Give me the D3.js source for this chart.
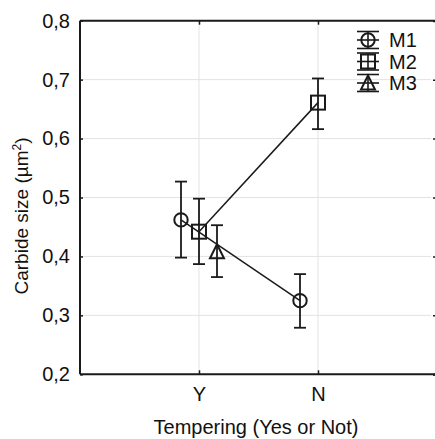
<!DOCTYPE html>
<html><head><meta charset="utf-8">
<script src="https://cdn.jsdelivr.net/npm/d3@7"></script>
<style>body{margin:0;background:#fff;} text{font-family:"Liberation Sans",Arial,sans-serif;fill:#111;}</style>
</head><body><svg id="c" width="435" height="439"></svg>
<script>
const categories = ["Y", "N"];
const seriesNames = ["M1", "M2", "M3"];
const means = [[0.462, 0.325], [0.442, 0.661], [0.408, null]];
const lows  = [[0.398, 0.279], [0.387, 0.616], [0.365, null]];
const highs = [[0.527, 0.370], [0.498, 0.702], [0.453, null]];
const yTicks = [0.2, 0.3, 0.4, 0.5, 0.6, 0.7, 0.8];
const yTickLabels = ["0,2", "0,3", "0,4", "0,5", "0,6", "0,7", "0,8"];
const xTitle = "Tempering (Yes or Not)";
const yTitleMain = "Carbide size (µm";
const yTitleSup = "2";
const yTitleEnd = ")";

const svg = d3.select("#c");
const L = 80, R = 437, T = 20.7, B = 374.3;
const FS = "20px";
const x = d3.scalePoint().domain(categories).range([L, R]).padding(1);
const y = d3.scaleLinear().domain([0.2, 0.8]).range([B, T]);
const dark = "#1a1a1a";

// grid
const g = svg.append("g");
g.selectAll(".gy").data(yTicks.slice(1, -1)).join("line")
  .attr("x1", L).attr("x2", 431).attr("y1", d => y(d)).attr("y2", d => y(d))
  .attr("stroke", "#e3e3e3").attr("stroke-width", 1);
g.selectAll(".gx").data(categories).join("line")
  .attr("x1", d => x(d)).attr("x2", d => x(d)).attr("y1", T).attr("y2", B)
  .attr("stroke", "#e3e3e3").attr("stroke-width", 1);

// axes
const axL = d3.axisLeft(y).tickValues(yTicks).tickSize(-3).tickPadding(10)
  .tickFormat((d, i) => yTickLabels[i]);
const gl = svg.append("g").attr("transform", `translate(${L},0)`).call(axL);
const axB = d3.axisBottom(x).tickSize(-4).tickPadding(13);
const gb = svg.append("g").attr("transform", `translate(0,${B})`).call(axB);
const axT = d3.axisTop(x).tickSize(-4).tickFormat("");
const gt = svg.append("g").attr("transform", `translate(0,${T})`).call(axT);
const axR = d3.axisRight(y).tickValues(yTicks).tickSize(-4).tickFormat("");
const gr = svg.append("g").attr("transform", `translate(${R},0)`).call(axR);
[gl, gb, gt, gr].forEach(a => {
  a.select(".domain").attr("stroke", dark).attr("stroke-width", 2);
  a.selectAll(".tick line").attr("stroke", dark).attr("stroke-width", 1.5);
  a.selectAll("text").style("font-size", FS).attr("fill", "#111")
    .style("font-family", '"Liberation Sans",Arial,sans-serif');
});
gb.select(".domain").attr("d", `M${L},0H${R}`);
gt.select(".domain").attr("d", `M${L},0H${R}`);
gl.select(".domain").attr("d", `M0,${B}V${T}`);

// titles
svg.append("text").attr("x", 256).attr("y", 434).attr("text-anchor", "middle")
  .style("font-size", FS).text(xTitle);
const yt = svg.append("text").attr("transform", "translate(28,216) rotate(-90)").attr("text-anchor", "middle")
  .style("font-size", "19px");
yt.append("tspan").text(yTitleMain);
yt.append("tspan").attr("dy", -7).style("font-size", "12px").text(yTitleSup);
yt.append("tspan").attr("dy", 7).text(yTitleEnd);

// markers
function marker(sel, k, cx, cy) {
  if (k === 0) sel.append("circle").attr("cx", cx).attr("cy", cy).attr("r", 6.7);
  else if (k === 1) sel.append("rect").attr("x", cx - 7).attr("y", cy - 7).attr("width", 14).attr("height", 14);
  else sel.append("path").attr("d", `M${cx},${cy - 7.5}L${cx + 7},${cy + 6.5}L${cx - 7},${cy + 6.5}Z`);
}
const dodge = 18;
const data = svg.append("g");
seriesNames.forEach((s, k) => {
  const off = (k - 1) * dodge;
  const pts = categories.map((c, i) => ({c, m: means[k][i], lo: lows[k][i], hi: highs[k][i]}))
    .filter(p => p.m != null);
  const line = d3.line().x(p => x(p.c) + off).y(p => y(p.m));
  if (pts.length > 1)
    data.append("path").attr("d", line(pts)).attr("fill", "none").attr("stroke", dark).attr("stroke-width", 1.5);
  pts.forEach(p => {
    const cx = x(p.c) + off;
    const eb = data.append("g").attr("stroke", dark).attr("stroke-width", 1.8);
    eb.append("line").attr("x1", cx).attr("x2", cx).attr("y1", y(p.hi)).attr("y2", y(p.lo));
    eb.append("line").attr("x1", cx - 6).attr("x2", cx + 6).attr("y1", y(p.hi)).attr("y2", y(p.hi));
    eb.append("line").attr("x1", cx - 6).attr("x2", cx + 6).attr("y1", y(p.lo)).attr("y2", y(p.lo));
  });
  pts.forEach(p => {
    const mg = data.append("g").attr("fill", "none").attr("stroke", dark).attr("stroke-width", 2);
    marker(mg, k, x(p.c) + off, y(p.m));
  });
});

// legend
const lg = svg.append("g");
seriesNames.forEach((s, k) => {
  const cy = 40 + k * 21.5, cx = 368;
  const e = lg.append("g").attr("stroke", dark).attr("stroke-width", 1.6).attr("fill", "none");
  [-8.5, 0, 8.5].forEach(dy => e.append("line").attr("x1", cx - 11).attr("x2", cx + 11).attr("y1", cy + dy).attr("y2", cy + dy));
  e.append("line").attr("x1", cx).attr("x2", cx).attr("y1", cy - 8.5).attr("y2", cy + 8.5);
  const mg = lg.append("g").attr("fill", "none").attr("stroke", dark).attr("stroke-width", 2);
  marker(mg, k, cx, cy);
  lg.append("text").attr("x", 389).attr("y", cy + 7).style("font-size", FS).text(s);
});
</script></body></html>
